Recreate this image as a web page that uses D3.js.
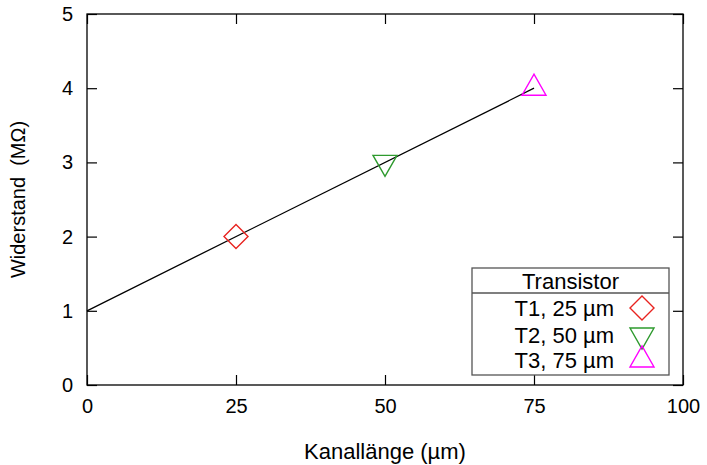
<!DOCTYPE html>
<html lang="de">
<head>
<meta charset="utf-8">
<title>Widerstand vs Kanallänge</title>
<script src="https://d3js.org/d3.v7.min.js"></script>
<style>
  body { margin: 0; background: #fff; }
  svg text { font-family: "Liberation Sans", Arial, sans-serif; fill: #000; }
</style>
</head>
<body>
<div id="chart"></div>
<script>
// data
var transistors = ["T1, 25 µm", "T2, 50 µm", "T3, 75 µm"];
var lengths = [25, 50, 75];
var resistances = [2, 3, 4];
var markers = ["diamond", "triangleDown", "triangleUp"];
var colors = ["#e8231f", "#2e9a2e", "#ff00ff"];
var fitX = [0, 75];
var fitY = [1, 4];
var xTicks = [0, 25, 50, 75, 100];
var yTicks = [0, 1, 2, 3, 4, 5];

var W = 707, H = 465;
var margin = {top: 14, right: 24, bottom: 80, left: 87};
var width = W - margin.left - margin.right,
    height = H - margin.top - margin.bottom;

var svg = d3.select("#chart").append("svg")
    .attr("width", W).attr("height", H);
var g = svg.append("g")
    .attr("transform", "translate(" + margin.left + "," + margin.top + ")");

var x = d3.scaleLinear().domain([0, 100]).range([0, width]);
var y = d3.scaleLinear().domain([0, 5]).range([height, 0]);

var tickLen = 10, fs = 20, fsBig = 22;

// ticks (inward, mirrored)
function drawTicks(sel) { sel.selectAll(".domain").remove(); sel.selectAll("line").attr("stroke", "#000").attr("stroke-width", 1.2); }

g.append("g").attr("transform", "translate(0," + height + ")")
  .call(d3.axisBottom(x).tickValues(xTicks).tickSizeInner(-tickLen).tickSizeOuter(0).tickPadding(14))
  .call(drawTicks)
  .selectAll("text").attr("font-size", fs).attr("dy", "0.71em")
  .attr("font-family", "Liberation Sans, Arial, sans-serif");

g.append("g")
  .call(d3.axisTop(x).tickValues(xTicks).tickSizeInner(-tickLen).tickSizeOuter(0).tickFormat(""))
  .call(drawTicks);

g.append("g")
  .call(d3.axisLeft(y).tickValues(yTicks).tickSizeInner(-tickLen).tickSizeOuter(0).tickPadding(14)
    .tickFormat(d3.format("d")))
  .call(drawTicks)
  .selectAll("text").attr("font-size", fs)
  .attr("font-family", "Liberation Sans, Arial, sans-serif");

g.append("g").attr("transform", "translate(" + width + ",0)")
  .call(d3.axisRight(y).tickValues(yTicks).tickSizeInner(-tickLen).tickSizeOuter(0).tickFormat(""))
  .call(drawTicks);

// border
g.append("rect").attr("width", width).attr("height", height)
  .attr("fill", "none").attr("stroke", "#000").attr("stroke-width", 1.3);

// fit line
g.append("path")
  .datum(fitX.map(function(d, i) { return [d, fitY[i]]; }))
  .attr("fill", "none").attr("stroke", "#000").attr("stroke-width", 1.3)
  .attr("d", d3.line().x(function(d) { return x(d[0]); }).y(function(d) { return y(d[1]); }));

// marker shapes
function markerPath(type, cx, cy) {
  var s = 12;
  if (type === "diamond")
    return "M" + cx + "," + (cy - s) + "L" + (cx + s) + "," + cy + "L" + cx + "," + (cy + s) + "L" + (cx - s) + "," + cy + "Z";
  if (type === "triangleDown")
    return "M" + (cx - s) + "," + (cy - 7) + "L" + (cx + s) + "," + (cy - 7) + "L" + cx + "," + (cy + 14) + "Z";
  return "M" + (cx - s) + "," + (cy + 7) + "L" + (cx + s) + "," + (cy + 7) + "L" + cx + "," + (cy - 14) + "Z";
}

g.selectAll(".pt").data(lengths).enter().append("path")
  .attr("class", "pt")
  .attr("d", function(d, i) { return markerPath(markers[i], x(d), y(resistances[i])); })
  .attr("fill", "none")
  .attr("stroke", function(d, i) { return colors[i]; })
  .attr("stroke-width", 1.4);

// axis titles
svg.append("text")
  .attr("x", margin.left + width / 2).attr("y", 459)
  .attr("text-anchor", "middle").attr("font-size", fsBig)
  .text("Kanallänge (µm)");

svg.append("text")
  .attr("transform", "translate(25," + (margin.top + height / 2) + ") rotate(-90)")
  .attr("text-anchor", "middle").attr("font-size", fs)
  .style("white-space", "pre")
  .text("Widerstand  (MΩ)");

// legend
var lg = svg.append("g");
var lx = 472, ly = 268, lw = 197, lh = 107;
lg.append("rect").attr("x", lx).attr("y", ly).attr("width", lw).attr("height", lh)
  .attr("fill", "#fff").attr("stroke", "#555").attr("stroke-width", 1.3);
lg.append("line").attr("x1", lx).attr("x2", lx + lw).attr("y1", ly + 25).attr("y2", ly + 25)
  .attr("stroke", "#555").attr("stroke-width", 1.3);
lg.append("text").attr("x", lx + lw / 2).attr("y", ly + 21)
  .attr("text-anchor", "middle").attr("font-size", fsBig).text("Transistor");

var rowY = [308, 335, 360];
transistors.forEach(function(t, i) {
  lg.append("text").attr("x", 614).attr("y", rowY[i] + 8)
    .attr("text-anchor", "end").attr("font-size", fsBig).text(t);
  lg.append("path").attr("d", markerPath(markers[i], 642, rowY[i]))
    .attr("fill", "none").attr("stroke", colors[i]).attr("stroke-width", 1.4);
});
</script>
</body>
</html>
